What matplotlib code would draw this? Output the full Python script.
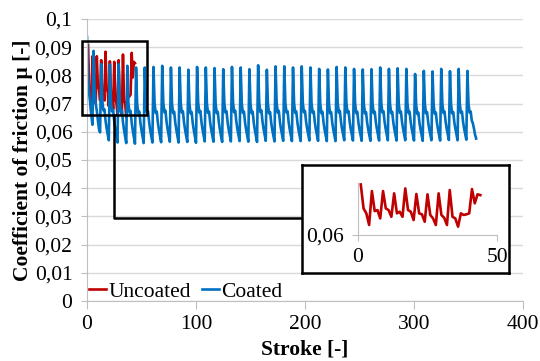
import numpy as np
import matplotlib
matplotlib.use("Agg")
import matplotlib.pyplot as plt
from matplotlib.patches import Rectangle
from matplotlib.ticker import FuncFormatter

plt.rcParams['font.family'] = ['Liberation Serif', 'DejaVu Serif']

# uncoated run: one value per stroke, strokes 1..44
uncoated_stroke = np.arange(1, 45)
uncoated_mu = [0.0908, 0.0762, 0.0732, 0.0661, 0.0868, 0.0746, 0.0752, 0.0701,
               0.0868, 0.0762, 0.0752, 0.0711, 0.0854, 0.0732, 0.0742, 0.0711,
               0.0884, 0.0752, 0.0742, 0.0691, 0.0850, 0.0732, 0.0726, 0.0681,
               0.0848, 0.0722, 0.0701, 0.0661, 0.0854, 0.0722, 0.0705, 0.0661,
               0.0874, 0.0711, 0.0701, 0.0651, 0.0732, 0.0722, 0.0726, 0.0732,
               0.0880, 0.0793, 0.0848, 0.0843]

# coated run, strokes 0..357 (run-in, then one row per 8-stroke cycle, then the tail)
coated_runin = [0.0937, 0.0790, 0.0735, 0.0700, 0.0660, 0.0625,
                0.0887, 0.0745, 0.0700, 0.0675, 0.0640, 0.0610, 0.0598]
coated_cycles = [
    [0.0840, 0.0712, 0.0676, 0.0680, 0.0640, 0.0612, 0.0590, 0.0570],
    [0.0839, 0.0705, 0.0672, 0.0678, 0.0636, 0.0608, 0.0585, 0.0562],
    [0.0840, 0.0708, 0.0670, 0.0676, 0.0634, 0.0606, 0.0582, 0.0560],
    [0.0834, 0.0702, 0.0668, 0.0674, 0.0632, 0.0604, 0.0580, 0.0558],
    [0.0828, 0.0700, 0.0666, 0.0672, 0.0632, 0.0605, 0.0582, 0.0560],
    [0.0828, 0.0703, 0.0668, 0.0673, 0.0634, 0.0606, 0.0584, 0.0562],
    [0.0830, 0.0701, 0.0667, 0.0672, 0.0633, 0.0607, 0.0585, 0.0563],
    [0.0834, 0.0704, 0.0669, 0.0675, 0.0635, 0.0608, 0.0586, 0.0565],
    [0.0828, 0.0700, 0.0666, 0.0671, 0.0632, 0.0606, 0.0584, 0.0562],
    [0.0828, 0.0702, 0.0668, 0.0673, 0.0634, 0.0607, 0.0585, 0.0564],
    [0.0820, 0.0699, 0.0665, 0.0670, 0.0631, 0.0605, 0.0583, 0.0561],
    [0.0830, 0.0703, 0.0668, 0.0674, 0.0635, 0.0608, 0.0587, 0.0566],
    [0.0828, 0.0701, 0.0667, 0.0672, 0.0633, 0.0607, 0.0586, 0.0565],
    [0.0826, 0.0700, 0.0666, 0.0671, 0.0632, 0.0606, 0.0585, 0.0564],
    [0.0822, 0.0702, 0.0668, 0.0673, 0.0634, 0.0608, 0.0587, 0.0566],
    [0.0830, 0.0704, 0.0669, 0.0675, 0.0636, 0.0609, 0.0588, 0.0567],
    [0.0828, 0.0701, 0.0667, 0.0672, 0.0633, 0.0607, 0.0586, 0.0565],
    [0.0822, 0.0700, 0.0666, 0.0671, 0.0632, 0.0606, 0.0585, 0.0564],
    [0.0836, 0.0705, 0.0670, 0.0676, 0.0637, 0.0610, 0.0589, 0.0568],
    [0.0820, 0.0699, 0.0665, 0.0670, 0.0632, 0.0606, 0.0586, 0.0566],
    [0.0832, 0.0703, 0.0668, 0.0674, 0.0635, 0.0609, 0.0588, 0.0568],
    [0.0832, 0.0702, 0.0668, 0.0673, 0.0634, 0.0608, 0.0588, 0.0567],
    [0.0828, 0.0701, 0.0667, 0.0672, 0.0634, 0.0608, 0.0587, 0.0567],
    [0.0832, 0.0703, 0.0669, 0.0674, 0.0636, 0.0610, 0.0589, 0.0569],
    [0.0828, 0.0701, 0.0667, 0.0672, 0.0634, 0.0608, 0.0588, 0.0568],
    [0.0823, 0.0700, 0.0666, 0.0671, 0.0633, 0.0607, 0.0587, 0.0567],
    [0.0821, 0.0699, 0.0665, 0.0670, 0.0632, 0.0607, 0.0587, 0.0567],
    [0.0830, 0.0703, 0.0668, 0.0674, 0.0636, 0.0610, 0.0590, 0.0570],
    [0.0828, 0.0702, 0.0667, 0.0673, 0.0635, 0.0609, 0.0589, 0.0569],
    [0.0823, 0.0700, 0.0666, 0.0671, 0.0633, 0.0608, 0.0588, 0.0568],
    [0.0821, 0.0699, 0.0665, 0.0670, 0.0633, 0.0608, 0.0588, 0.0568],
    [0.0822, 0.0700, 0.0666, 0.0671, 0.0634, 0.0609, 0.0589, 0.0569],
    [0.0828, 0.0702, 0.0668, 0.0673, 0.0636, 0.0610, 0.0590, 0.0570],
    [0.0823, 0.0700, 0.0666, 0.0671, 0.0634, 0.0609, 0.0589, 0.0569],
    [0.0825, 0.0701, 0.0667, 0.0672, 0.0635, 0.0610, 0.0590, 0.0570],
    [0.0823, 0.0700, 0.0666, 0.0671, 0.0634, 0.0609, 0.0589, 0.0569],
    [0.0805, 0.0695, 0.0663, 0.0668, 0.0632, 0.0608, 0.0588, 0.0568],
    [0.0816, 0.0698, 0.0665, 0.0670, 0.0634, 0.0609, 0.0589, 0.0570],
    [0.0814, 0.0697, 0.0664, 0.0669, 0.0633, 0.0609, 0.0589, 0.0569],
    [0.0823, 0.0701, 0.0667, 0.0672, 0.0636, 0.0611, 0.0591, 0.0571],
    [0.0815, 0.0698, 0.0665, 0.0670, 0.0634, 0.0610, 0.0590, 0.0570],
    [0.0823, 0.0701, 0.0667, 0.0672, 0.0636, 0.0611, 0.0591, 0.0572],
]
coated_tail = [0.0816, 0.0700, 0.0668, 0.0672, 0.0640, 0.0630, 0.0612, 0.0590, 0.0576]

coated_mu = np.concatenate([coated_runin] + coated_cycles + [coated_tail])
coated_stroke = np.arange(len(coated_mu))

RED = '#C00000'
BLUE = '#0070C0'
GRID = '#d9d9d9'
AXIS = '#bfbfbf'
FS = 15.5


def comma_fmt(v, pos):
    s = ('%.2f' % v).rstrip('0').rstrip('.')
    return s.replace('.', ',')


fig = plt.figure(figsize=(5.40, 3.61), dpi=100)
ax = fig.add_axes([87 / 540, 60 / 361, 436 / 540, 282 / 361])

ax.plot(uncoated_stroke, uncoated_mu, color=RED, lw=1.9, label='Uncoated')
ax.plot(coated_stroke, coated_mu, color=BLUE, lw=1.9, label='Coated')

ax.set_xlim(0, 400)
ax.set_ylim(0, 0.1)
ax.set_xticks([0, 100, 200, 300, 400])
ax.set_yticks(np.arange(0, 0.1001, 0.01))
ax.yaxis.set_major_formatter(FuncFormatter(comma_fmt))
ax.grid(axis='y', color=GRID, lw=1)
ax.set_axisbelow(True)
for side in ['top', 'right']:
    ax.spines[side].set_visible(False)
for side in ['left', 'bottom']:
    ax.spines[side].set_color(AXIS)
ax.tick_params(axis='both', labelsize=FS, color=AXIS)
ax.tick_params(axis='y', length=4.5, pad=6)
ax.tick_params(axis='x', length=6, pad=4)
ax.set_xlabel('Stroke [-]', fontsize=FS, fontweight='bold', labelpad=4)
ax.set_ylabel('Coefficient of friction µ [-]', fontsize=FS, fontweight='bold', labelpad=1)

ax.legend(loc='lower left', bbox_to_anchor=(0.0, -0.01), ncol=2, frameon=False,
          fontsize=FS, handlelength=0.8, handletextpad=0.1, columnspacing=0.5,
          borderpad=0.1, borderaxespad=0.0)

# zoom box around the uncoated run
ax.add_patch(Rectangle((-4.6, 0.0661), 59.6, 0.0261, fill=False, ec='black',
                       lw=1.8, zorder=5, clip_on=False))

# frame for the inset
box = fig.add_axes([302 / 540, 88 / 361, 207 / 540, 108 / 361])
box.set_xticks([])
box.set_yticks([])
for sp in box.spines.values():
    sp.set_linewidth(1.8)
    sp.set_color('black')

# leader line from zoom box to inset frame
x_box = ax.transData.inverted().transform(fig.transFigure.transform((302 / 540, 0)))[0]
ax.plot([24.8, 24.8, x_box], [0.0661, 0.0293, 0.0293], color='black', lw=1.8,
        zorder=5, clip_on=False)

ins = fig.add_axes([358 / 540, 126 / 361, 139 / 540, 52 / 361])
ins.patch.set_alpha(0)
ins.plot(uncoated_stroke, uncoated_mu, color=RED, lw=1.9)
ins.set_xlim(0, 50)
ins.set_ylim(0.06, 0.0917)
ins.set_xticks([0, 50])
ins.set_yticks([0.06])
ins.yaxis.set_major_formatter(FuncFormatter(comma_fmt))
for side in ['top', 'right']:
    ins.spines[side].set_visible(False)
for side in ['left', 'bottom']:
    ins.spines[side].set_color(AXIS)
ins.tick_params(axis='both', labelsize=FS, color=AXIS, length=4)
ins.tick_params(axis='y', pad=6)
ins.tick_params(axis='x', pad=5)

fig.savefig('out.png', dpi=100)
